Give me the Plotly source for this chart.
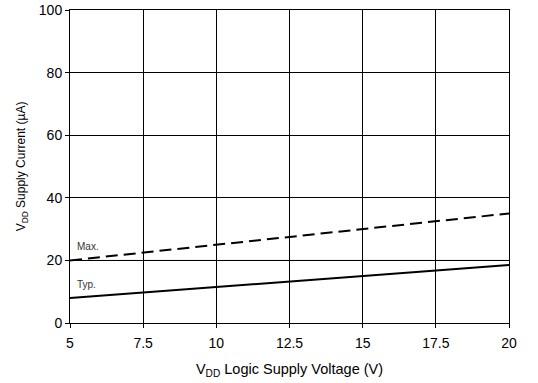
import plotly.graph_objects as go

vdd = [5, 20]
max_current = [20, 35]
typ_current = [8, 18.5]
x_ticks = [5, 7.5, 10, 12.5, 15, 17.5, 20]
y_ticks = [0, 20, 40, 60, 80, 100]

font = "Liberation Sans, Arial, sans-serif"

fig = go.Figure()
fig.add_trace(go.Scatter(x=vdd, y=max_current, mode="lines",
                         line=dict(color="black", width=2, dash="12px,6px"),
                         showlegend=False, hoverinfo="skip"))
fig.add_trace(go.Scatter(x=vdd, y=typ_current, mode="lines",
                         line=dict(color="black", width=2),
                         showlegend=False, hoverinfo="skip"))

fig.add_annotation(x=5.17, y=24.6, text="Max.", showarrow=False, xanchor="left", yanchor="middle",
                   font=dict(family=font, size=10, color="#333"))
fig.add_annotation(x=5.17, y=12.2, text="Typ.", showarrow=False, xanchor="left", yanchor="middle",
                   font=dict(family=font, size=10, color="#333"))

fig.add_shape(type="line", xref="paper", x0=0, x1=1, yref="y", y0=20, y1=20,
              line=dict(color="#888", width=1), layer="below")

fig.update_layout(
    width=538, height=383,
    margin=dict(l=70, r=29, t=10, b=60),
    paper_bgcolor="white", plot_bgcolor="white",
    font=dict(family=font, size=14, color="black"),
    xaxis=dict(range=[5, 20], tickvals=x_ticks, ticktext=[str(v) for v in x_ticks],
               showgrid=True, gridcolor="black", gridwidth=1, automargin=False,
               showline=True, linecolor="black", linewidth=1, mirror=True,
               ticks="outside", ticklen=4, tickcolor="black", zeroline=False,
               ticklabelstandoff=3,
               title=dict(text="V<sub>DD</sub> Logic Supply Voltage (V)", font=dict(size=14.5), standoff=14)),
    yaxis=dict(range=[0, 100], tickvals=y_ticks,
               showgrid=True, gridcolor="black", gridwidth=1, automargin=False,
               showline=True, linecolor="black", linewidth=1, mirror=True,
               ticks="outside", ticklen=4, tickcolor="black", zeroline=False,
               title=dict(text="V<sub>DD</sub> Supply Current (µA)", font=dict(size=12), standoff=10)),
)

fig.write_html("out.html", config={"displayModeBar": False},
               post_script="document.body.style.margin='0';")
